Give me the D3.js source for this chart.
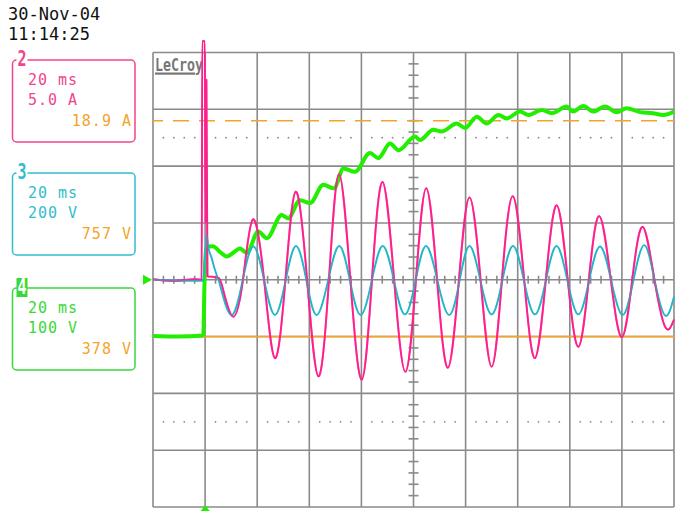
<!DOCTYPE html>
<html>
<head>
<meta charset="utf-8">
<script src="https://cdn.jsdelivr.net/npm/d3@7"></script>
<style>
  body { margin: 0; background: #fff; }
  svg { display: block; }
  text { font-family: "DejaVu Sans Mono", monospace; }
</style>
</head>
<body>
<div id="js-canvas"></div>
<script>
"use strict";

// Screen header and per-channel readouts.
const stamp = ["30-Nov-04", "11:14:25"];
const channelIds = ["2", "3", "4"];
const timeBases = ["20 ms", "20 ms", "20 ms"];
const scaleLabels = ["5.0 A", "200 V", "100 V"];
const readouts = ["18.9 A", "757 V", "378 V"];

// Units per division for ch2 (A), ch3 (V), ch4 (V).
const perDiv = [5, 200, 100];

// Cursor levels on ch4 (V).
const cursorDashed = 280;
const cursorSolid = -100;

// Trigger time (ms from left edge).
const triggerTime = 20;

// Time (ms) after which ch2 / ch3 settle into the 60 Hz swing.
const settleTimes = [26.5, 25.3];

// Channel 2, current: [ms, A]
const ch2Current = [
  [0, 0.05], [8, -0.1], [16, 0.05], [18.7, 0], [18.9, 21], [19.9, 21],
  [20.2, 5], [20.5, 17.6], [20.9, 0.3], [23.4, 0.25], [25.3, 0.15],
  [26.5, -0.5], [30.8, -3.25], [34.6, 0.1], [38.3, 5.3], [42.6, 0.1],
  [46.8, -6.9], [50.9, 0.15], [54.8, 7.75], [59.1, 0.15], [63.5, -8.5],
  [67.6, 0.2], [71.4, 9.3], [75.7, 0.2], [80.1, -8.8], [84.1, 0.15],
  [88.1, 8.6], [92.5, 0.15], [96.9, -8.1], [101, 0.15], [104.9, 8.05],
  [109, 0.15], [113.2, -7.75], [117.5, 0.15], [121.5, 7.25], [125.7, 0.15],
  [130, -7.65], [134, 0.15], [138.1, 7.35], [142.4, 0.2], [146.6, -6.9],
  [150.9, 0.25], [155, 6.55], [159.1, 0.25], [163.3, -5.9], [167.4, 0.25],
  [171.3, 5.6], [175.6, 0.25], [180, -5.05], [184.1, 0.25], [188, 4.65],
  [192.3, 0.25], [196.6, -4.15], [200, -3.5]
];

// Channel 3, voltage: [ms, V]
const ch3Voltage = [
  [0, 0], [19.2, -4], [20.15, 105], [20.6, 158], [21.2, 116], [22.5, 77],
  [23.8, 34], [25.3, -4], [30.2, -124], [34.4, -3], [38.5, 117], [42.7, -3],
  [46.8, -124], [50.9, -3], [54.9, 119], [58.9, -3], [62.8, -124], [67.2, -3],
  [71.5, 119], [75.6, -3], [79.7, -124], [84.0, -3], [88.2, 119], [92.5, -3],
  [96.7, -122], [100.8, -3], [104.8, 119], [109.2, -3], [113.7, -124],
  [117.7, -3], [121.5, 119], [125.7, -3], [130.0, -122], [134.1, -3],
  [138.2, 119], [142.4, -3], [146.6, -122], [150.8, -3], [154.9, 119],
  [159.1, -3], [163.3, -122], [167.4, -3], [171.6, 117], [175.9, -3],
  [180.3, -124], [184.4, -3], [188.6, 122], [192.6, -3], [196.6, -126],
  [200, -60]
];

// Channel 4, voltage: [ms, V]
const ch4Voltage = [
  [0, -99], [10, -100], [19.0, -98], [19.3, -97], [19.8, 0], [20.6, 58],
  [23.0, 59], [25.7, 49], [28.3, 41], [30.7, 47], [33.4, 55], [36.0, 47],
  [40.4, 85], [43.7, 73], [49.4, 114], [51.9, 108], [56.4, 140], [60.3, 135],
  [65.4, 167], [69.5, 161], [73.1, 196], [77.5, 190], [83.3, 223], [86.5, 214],
  [91.0, 240], [94.2, 228], [100.6, 252], [102.5, 246], [107.6, 264],
  [110.8, 261], [116.6, 275], [119.8, 267], [124.3, 287], [128.1, 275],
  [132.6, 290], [135.8, 284], [140.9, 296], [144.1, 290], [149.2, 299],
  [153.1, 293], [158.8, 305], [161.2, 296], [165.2, 306], [169.0, 296],
  [173.5, 305], [178.0, 295], [181.8, 302], [187.0, 295], [191.9, 293],
  [195.8, 290], [200, 296]
];

const traceColors = ["#ff1f8c", "#22b6ca", "#22ee00"];
const boxColors = ["#f0458f", "#32bdcd", "#3ad83a"];
const readoutColor = "#f5a42a";
const gridColor = "#8a8a8a";

const width = 675;
const height = 511;

const x = d3.scaleLinear().domain([0, 200]).range([153, 674]);
const y = d3.scaleLinear().domain([-4, 4]).range([507, 52.5]);

function createCanvas() {
  return d3.select("#js-canvas")
    .append("svg")
      .attr("width", width)
      .attr("height", height);
}

function drawStamp(svg) {
  svg.append("g")
    .selectAll("text")
    .data(stamp)
    .enter()
    .append("text")
      .attr("x", 8)
      .attr("y", function (d, i) { return 20 + i * 20; })
      .attr("font-size", 17)
      .attr("fill", "#111")
      .text(function (d) { return d; });
}

function drawBoxes(svg) {
  const tops = [60, 173, 288];
  channelIds.forEach(function (id, i) {
    const g = svg.append("g").attr("transform", "translate(0," + tops[i] + ")");
    const c = boxColors[i];
    g.append("rect")
      .attr("x", 12.5).attr("y", 0)
      .attr("width", 122.5).attr("height", 82)
      .attr("rx", 4)
      .attr("fill", "none")
      .attr("stroke", c)
      .attr("stroke-width", 1.5);
    g.append("rect")
      .attr("x", 16.5).attr("y", -10)
      .attr("width", 11).attr("height", i === 2 ? 19 : 18)
      .attr("fill", i === 2 ? c : "#fff");
    g.append("text")
      .attr("x", 17.5).attr("y", 6)
      .attr("font-size", 22)
      .attr("font-weight", "bold")
      .attr("textLength", 9)
      .attr("lengthAdjust", "spacingAndGlyphs")
      .attr("fill", i === 2 ? "#fff" : c)
      .text(id);
    g.append("text")
      .attr("x", 28).attr("y", 25)
      .attr("font-size", 15).attr("letter-spacing", 1)
      .attr("fill", c)
      .text(timeBases[i]);
    g.append("text")
      .attr("x", 28).attr("y", 45)
      .attr("font-size", 15).attr("letter-spacing", 1)
      .attr("fill", c)
      .text(scaleLabels[i]);
    g.append("text")
      .attr("x", 132).attr("y", 66)
      .attr("font-size", 15).attr("letter-spacing", 1)
      .attr("text-anchor", "end")
      .attr("fill", readoutColor)
      .text(readouts[i]);
  });
}

function drawGrid(svg) {
  const g = svg.append("g")
    .attr("stroke", gridColor)
    .attr("stroke-width", 1.6);

  g.selectAll(".vline")
    .data(d3.range(0, 11))
    .enter()
    .append("line")
      .attr("x1", function (d) { return x(d * 20); })
      .attr("x2", function (d) { return x(d * 20); })
      .attr("y1", y(-4))
      .attr("y2", y(4));

  g.selectAll(".hline")
    .data(d3.range(-4, 5))
    .enter()
    .append("line")
      .attr("x1", x(0))
      .attr("x2", x(200))
      .attr("y1", function (d) { return y(d); })
      .attr("y2", function (d) { return y(d); });

  // small ticks on the centre axes, 5 per division
  const xt = d3.range(0, 200.01, 4).filter(function (t) { return t % 20 !== 0; });
  g.selectAll(".xtick")
    .data(xt)
    .enter()
    .append("line")
      .attr("x1", function (d) { return x(d); })
      .attr("x2", function (d) { return x(d); })
      .attr("y1", y(0) - 4)
      .attr("y2", y(0) + 4);

  const yt = d3.range(-20, 21).filter(function (k) { return k % 5 !== 0; })
    .map(function (k) { return k / 5; });
  g.selectAll(".ytick")
    .data(yt)
    .enter()
    .append("line")
      .attr("x1", x(100) - 5)
      .attr("x2", x(100) + 5)
      .attr("y1", function (d) { return y(d); })
      .attr("y2", function (d) { return y(d); });

  // dotted half-division rows
  const dots = [];
  [-2.5, 2.5].forEach(function (lv) {
    d3.range(0, 10).forEach(function (i) {
      [4, 8, 12, 16].forEach(function (f) { dots.push([i * 20 + f, lv]); });
    });
  });
  svg.append("g")
    .selectAll("circle")
    .data(dots)
    .enter()
    .append("circle")
      .attr("cx", function (d) { return x(d[0]); })
      .attr("cy", function (d) { return y(d[1]); })
      .attr("r", 0.9)
      .attr("fill", "#888");
}

function drawLogo(svg) {
  svg.append("text")
    .attr("x", 155).attr("y", 71)
    .attr("font-family", "DejaVu Sans")
    .attr("font-weight", "bold")
    .attr("font-size", 17)
    .attr("textLength", 48)
    .attr("lengthAdjust", "spacingAndGlyphs")
    .attr("fill", "#777")
    .text("LeCroy");
  svg.append("rect")
    .attr("x", 155).attr("y", 72.5)
    .attr("width", 40).attr("height", 2.2)
    .attr("fill", "#777");
}

function drawCursors(svg) {
  const k = perDiv[2];
  svg.append("line")
    .attr("x1", x(0)).attr("x2", x(200))
    .attr("y1", y(cursorDashed / k)).attr("y2", y(cursorDashed / k))
    .attr("stroke", readoutColor)
    .attr("stroke-width", 1.6)
    .attr("stroke-dasharray", "16,10")
    .attr("stroke-dashoffset", 6);
  svg.append("line")
    .attr("x1", x(0)).attr("x2", x(200))
    .attr("y1", y(cursorSolid / k)).attr("y2", y(cursorSolid / k))
    .attr("stroke", readoutColor)
    .attr("stroke-width", 1.8);
}

function traceLine(k, curve) {
  return d3.line()
    .x(function (d) { return x(d[0]); })
    .y(function (d) { return y(d[1] / k); })
    .curve(curve);
}

// Spike part follows the samples tightly, steady swing is drawn smooth.
function tracePath(data, k, tSplit) {
  const head = data.filter(function (d) { return d[0] <= tSplit; });
  const tail = data.filter(function (d) { return d[0] >= tSplit; });
  return traceLine(k, d3.curveMonotoneX)(head) + traceLine(k, d3.curveNatural)(tail);
}

function drawTraces(svg) {
  const g = svg.append("g").attr("fill", "none").attr("stroke-linejoin", "round");
  const ch2 = tracePath(ch2Current, perDiv[0], settleTimes[0]);
  const ch3 = tracePath(ch3Voltage, perDiv[1], settleTimes[1]);
  g.append("path")
    .attr("d", traceLine(perDiv[2], d3.curveMonotoneX)(ch4Voltage))
    .attr("stroke", traceColors[2])
    .attr("stroke-width", 4);
  g.append("path")
    .attr("d", ch2)
    .attr("stroke", traceColors[0])
    .attr("stroke-width", 1.9);
  g.append("path")
    .attr("d", ch3)
    .attr("stroke", traceColors[1])
    .attr("stroke-width", 1.9);
  // blend where ch2 and ch3 overlap
  g.append("path")
    .attr("d", ch2)
    .attr("stroke", traceColors[0])
    .attr("stroke-opacity", 0.5)
    .attr("stroke-width", 1.9);
}

function drawMarkers(svg) {
  const yc = y(0);
  svg.append("path")
    .attr("d", "M143," + (yc - 5) + "L152," + yc + "L143," + (yc + 5) + "Z")
    .attr("fill", traceColors[2]);
  const xt = x(triggerTime);
  svg.append("path")
    .attr("d", "M" + (xt - 4.5) + ",511L" + xt + ",505L" + (xt + 4.5) + ",511Z")
    .attr("fill", traceColors[2]);
}

const svg = createCanvas();
drawStamp(svg);
drawBoxes(svg);
drawGrid(svg);
drawLogo(svg);
drawCursors(svg);
drawTraces(svg);
drawMarkers(svg);
</script>
</body>
</html>
